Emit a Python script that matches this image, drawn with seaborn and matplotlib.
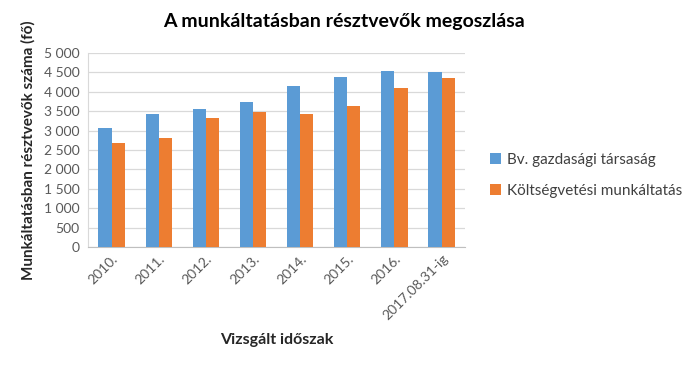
import pandas as pd
import numpy as np
import matplotlib
matplotlib.use("Agg")
import matplotlib.pyplot as plt
import seaborn as sns
from matplotlib.ticker import FuncFormatter, MultipleLocator

# adatok
idoszakok = ["2010.", "2011.", "2012.", "2013.", "2014.", "2015.", "2016.", "2017.08.31-ig"]
bv_gazdasagi = [3060, 3440, 3570, 3750, 4140, 4380, 4540, 4510]
koltsegvetesi = [2680, 2800, 3330, 3490, 3420, 3630, 4090, 4350]
sorozatok = ["Bv. gazdasági társaság", "Költségvetési munkáltatás"]
szinek = ["#5B9BD5", "#ED7D31"]

df = pd.DataFrame({
    "Időszak": idoszakok * 2,
    "Fő": bv_gazdasagi + koltsegvetesi,
    "Sorozat": [sorozatok[0]] * len(idoszakok) + [sorozatok[1]] * len(idoszakok),
})

sns.set_style("white")
plt.rcParams["font.family"] = ["Lato", "DejaVu Sans"]

fig = plt.figure(figsize=(6.88, 3.66), dpi=100)
ax = fig.add_axes([0.128, 0.325, 0.548, 0.530])

sns.barplot(data=df, x="Időszak", y="Fő", hue="Sorozat", palette=szinek,
            width=0.56, saturation=1, linewidth=0, ax=ax, zorder=3)

ax.set_ylim(0, 5000)
ax.yaxis.set_major_locator(MultipleLocator(500))
ax.yaxis.set_major_formatter(FuncFormatter(lambda v, p: f"{int(v):,}".replace(",", " ")))
ax.grid(axis="y", color="#D9D9D9", linewidth=0.9, zorder=0)
ax.set_axisbelow(True)

for s in ["top", "right"]:
    ax.spines[s].set_visible(False)
ax.spines["left"].set_color("#D9D9D9")
ax.spines["bottom"].set_color("#BFBFBF")

ax.tick_params(axis="y", labelsize=10, colors="#595959", length=0, pad=6)
ax.tick_params(axis="x", labelsize=10, colors="#595959", length=0, pad=4)
plt.setp(ax.get_xticklabels(), rotation=45, ha="right", rotation_mode="anchor")

ax.set_xlabel("Vizsgált időszak", fontsize=11.5, fontweight="bold", labelpad=8)
ax.set_ylabel("Munkáltatásban résztvevők száma (fő)", fontsize=11, fontweight="bold", labelpad=6)

fig.suptitle("A munkáltatásban résztvevők megoszlása", x=0.5, y=0.965,
             fontsize=14, fontweight="bold", color="#000000")

ax.legend(title=None, loc="center left", bbox_to_anchor=(1.03, 0.37), frameon=False,
          fontsize=11, handlelength=0.7, handleheight=0.7, handletextpad=0.4,
          labelspacing=1.1, labelcolor="#404040")

fig.savefig("out.png", dpi=100)
